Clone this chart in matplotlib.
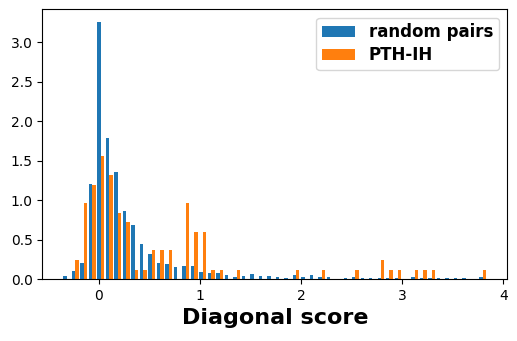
import numpy as np
import matplotlib
matplotlib.use("Agg")
import matplotlib.pyplot as plt

# 50 bins between the min and max of the pooled scores
bin_edges = np.linspace(-0.357, 3.84, 51)

# density heights, one per bin
random_pairs = [
    0.038, 0.100, 0.200, 1.204, 3.257, 1.787, 1.356, 0.862, 0.684, 0.444,
    0.317, 0.203, 0.190, 0.152, 0.165, 0.165, 0.089, 0.076, 0.076, 0.050,
    0.025, 0.038, 0.063, 0.038, 0.038, 0.025, 0.013, 0.050, 0.025, 0.050,
    0.025, 0.025, 0.000, 0.013, 0.025, 0.013, 0.013, 0.013, 0.013, 0.013,
    0.000, 0.025, 0.013, 0.013, 0.013, 0.013, 0.013, 0.013, 0.000, 0.025,
]
pth_ih = [
    0.000, 0.240, 0.960, 1.195, 1.559, 1.318, 0.838, 0.722, 0.120, 0.120,
    0.362, 0.362, 0.362, 0.000, 0.960, 0.598, 0.598, 0.120, 0.120, 0.000,
    0.120, 0.000, 0.000, 0.000, 0.000, 0.000, 0.000, 0.120, 0.000, 0.000,
    0.120, 0.000, 0.000, 0.000, 0.120, 0.000, 0.000, 0.240, 0.120, 0.120,
    0.000, 0.120, 0.120, 0.120, 0.000, 0.000, 0.000, 0.000, 0.000, 0.120,
]
labels = ["random pairs", "PTH-IH"]

centers = 0.5 * (bin_edges[:-1] + bin_edges[1:])

fig = plt.figure(figsize=(5.17, 3.41), dpi=100)
ax = fig.add_axes([0.0818, 0.1818, 0.8995, 0.7909])
ax.hist([centers, centers], bins=bin_edges, weights=[random_pairs, pth_ih],
        color=["#1f77b4", "#ff7f0e"], label=labels)
ax.set_xlabel("Diagonal score", fontsize=16, fontweight="bold")
ax.legend(prop={"size": 12, "weight": "bold"}, loc="upper right",
          labelspacing=0.3, borderpad=0.35)
ax.set_xticks([0, 1, 2, 3, 4])

fig.savefig("out.png", dpi=100)
plt.close(fig)
